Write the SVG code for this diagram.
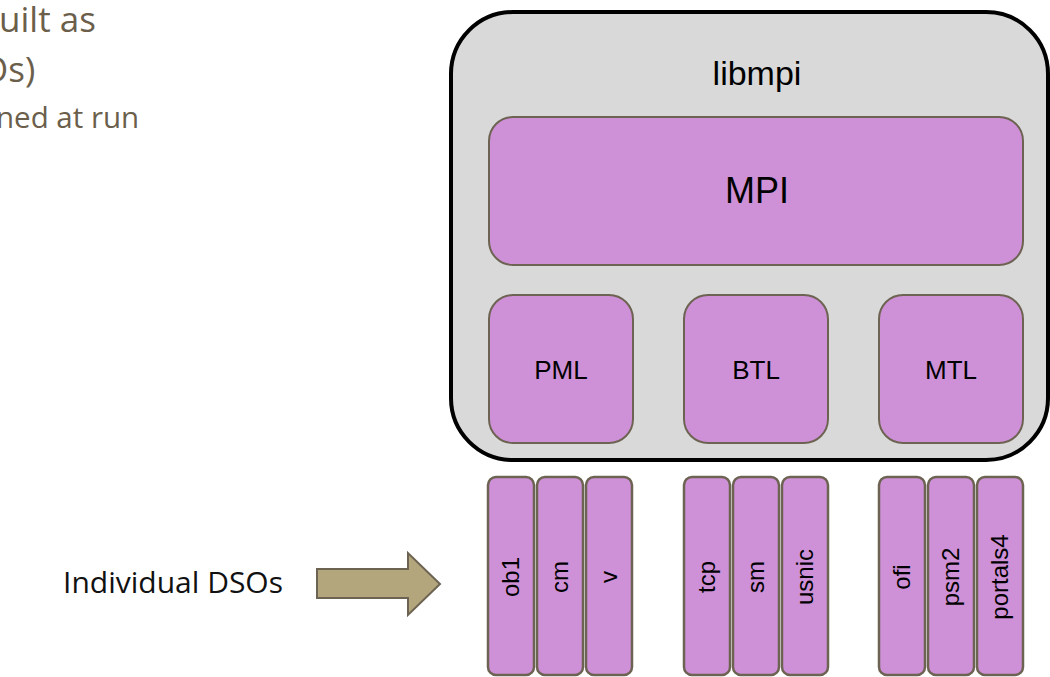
<svg xmlns="http://www.w3.org/2000/svg" width="1050" height="677" viewBox="0 0 1050 677">
<style>
.slide{font-family:"Open Sans","Noto Sans",sans-serif;fill:#6b5f4c}
.lbl{font-family:"Liberation Sans",Arial,sans-serif;fill:#000;text-anchor:middle}
.box{fill:#ce91d7;stroke:#6d6352;stroke-width:2}
.strip{fill:#ce91d7;stroke:#6d6352;stroke-width:2.5}
.sl{font-family:"Liberation Sans",Arial,sans-serif;fill:#000;text-anchor:middle;font-size:24px}
</style>
<rect width="1050" height="677" fill="#fff"/>
<g id="bullets">
<text class="slide" x="-1" y="32" font-size="35">uilt as</text>
<text class="slide" x="-19" y="82" font-size="35">Os)</text>
<text class="slide" x="-4" y="128" font-size="29.5">ned at run</text>
</g>
<g id="libmpi">
<rect x="451" y="12" width="597" height="448" rx="62" fill="#d9d9d9" stroke="#000" stroke-width="4"/>
<text class="lbl" x="757" y="85" font-size="34">libmpi</text>
</g>
<g id="mpi">
<rect class="box" x="489" y="117" width="534" height="148" rx="24"/>
<text class="lbl" x="757" y="203" font-size="36">MPI</text>
</g>
<g id="pml">
<rect class="box" x="489" y="295" width="144" height="148" rx="24"/>
<text class="lbl" x="561" y="379" font-size="26">PML</text>
</g>
<g id="btl">
<rect class="box" x="684" y="295" width="144" height="148" rx="24"/>
<text class="lbl" x="756" y="379" font-size="26">BTL</text>
</g>
<g id="mtl">
<rect class="box" x="879" y="295" width="144" height="148" rx="24"/>
<text class="lbl" x="951" y="379" font-size="26">MTL</text>
</g>
<g id="strips">
<g id="ob1"><rect class="strip" x="488" y="477" width="46" height="198" rx="8"/><text class="sl" transform="translate(511,577) rotate(-90)" dy="0.35em">ob1</text></g>
<g id="cm"><rect class="strip" x="537" y="477" width="46" height="198" rx="8"/><text class="sl" transform="translate(560,577) rotate(-90)" dy="0.35em">cm</text></g>
<g id="v"><rect class="strip" x="586" y="477" width="46" height="198" rx="8"/><text class="sl" transform="translate(609,577) rotate(-90)" dy="0.35em">v</text></g>
<g id="tcp"><rect class="strip" x="684" y="477" width="46" height="198" rx="8"/><text class="sl" transform="translate(707,577) rotate(-90)" dy="0.35em">tcp</text></g>
<g id="sm"><rect class="strip" x="733" y="477" width="46" height="198" rx="8"/><text class="sl" transform="translate(756,577) rotate(-90)" dy="0.35em">sm</text></g>
<g id="usnic"><rect class="strip" x="782" y="477" width="46" height="198" rx="8"/><text class="sl" transform="translate(805,577) rotate(-90)" dy="0.35em">usnic</text></g>
<g id="ofi"><rect class="strip" x="879" y="477" width="46" height="198" rx="8"/><text class="sl" transform="translate(902,577) rotate(-90)" dy="0.35em">ofi</text></g>
<g id="psm2"><rect class="strip" x="928" y="477" width="46" height="198" rx="8"/><text class="sl" transform="translate(951,577) rotate(-90)" dy="0.35em">psm2</text></g>
<g id="portals4"><rect class="strip" x="977" y="477" width="46" height="198" rx="8"/><text class="sl" transform="translate(1000,577) rotate(-90)" dy="0.35em">portals4</text></g>
</g>
<g id="dsos">
<text x="283" y="593" font-size="30" text-anchor="end" font-family="'Open Sans','Noto Sans',sans-serif" fill="#111">Individual DSOs</text>
</g>
<g id="connectors">
<polygon points="317,569 408,569 408,553 440,584 408,615 408,598 317,598" fill="#b3a67d" stroke="#6d6352" stroke-width="2"/>
</g>
</svg>
